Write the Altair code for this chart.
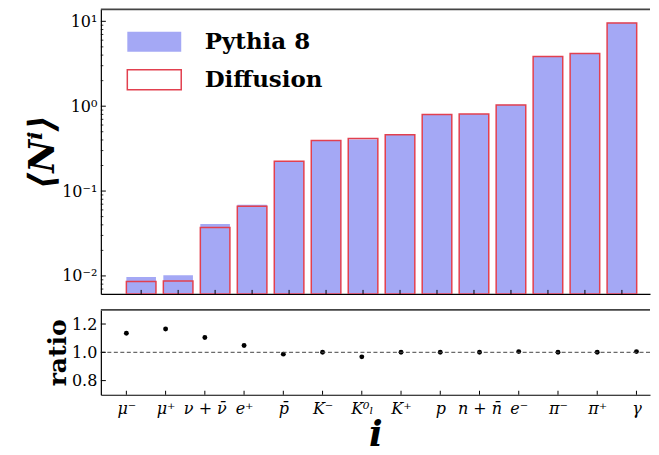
import json
import altair as alt
import pandas as pd

# ---------------- data ----------------
categories = ["μ⁻", "μ⁺", "ν + ν\u0304", "e⁺", "p\u0304", "K⁻", "K⁰ₗ", "K⁺",
              "p", "n + n\u0304", "e⁻", "π⁻", "π⁺", "γ"]
pythia = [0.0097, 0.0102, 0.041, 0.069, 0.222, 0.395, 0.404, 0.46,
          0.80, 0.81, 1.04, 3.84, 4.17, 9.6]
diffusion = [0.0086, 0.0087, 0.0372, 0.066, 0.225, 0.395, 0.417, 0.46,
             0.80, 0.81, 1.035, 3.84, 4.17, 9.55]
ratio = [1.135, 1.165, 1.105, 1.048, 0.987, 1.0, 0.968, 1.0,
         1.0, 1.0, 1.005, 1.0, 1.0, 1.005]
series_names = ["Pythia 8", "Diffusion"]

y_major = [0.01, 0.1, 1, 10]
y_major_labels = ["10⁻²", "10⁻¹", "10⁰", "10¹"]
minor_mult = [2, 3, 4, 5, 6, 7, 8, 9]
decades = [0.001, 0.01, 0.1, 1]
ratio_ticks = [0.8, 1.0, 1.2]

# ---------------- layout params ----------------
W = 550
H_TOP = 285
H_BOT = 85
YMIN, YMAX = 0.00614, 13.84
SERIF = "DejaVu Serif"

idx = list(range(len(categories)))
df_bars = pd.DataFrame({
    "idx": idx * 2,
    "value": pythia + diffusion,
    "series": [series_names[0]] * len(idx) + [series_names[1]] * len(idx),
})
df_ratio = pd.DataFrame({"idx": idx, "ratio": ratio})
df_ymaj = pd.DataFrame({"value": y_major})
df_ymin = pd.DataFrame({"value": [m * d for d in decades for m in minor_mult
                                  if YMIN < m * d < YMAX]})
df_idx = pd.DataFrame({"x0": idx, "idx": idx})
df_rt = pd.DataFrame({"ratio": ratio_ticks})
one = pd.DataFrame({"a": [0]})

xs_top = alt.Scale(domain=[-1.09, 13.76], nice=False, zero=False)
xs_bot = alt.Scale(domain=[-0.65, 13.345], nice=False, zero=False)
ys_top = alt.Scale(type="log", domain=[YMIN, YMAX], nice=False)
ys_bot = alt.Scale(domain=[0.7, 1.3], nice=False, zero=False)

expr_parts = []
for v, lab in zip(y_major[::-1], y_major_labels[::-1]):
    expr_parts.append(f"datum.value >= {v * 0.99} ? '{lab}' : ")
y_label_expr = "".join(expr_parts) + "''"

legend = alt.Legend(
    title=None, orient="none", legendX=42, legendY=21, padding=0,
    symbolType="M-2.7,-1H2.7V1H-2.7Z", symbolSize=400, symbolStrokeWidth=1.5,
    labelFont=SERIF, labelFontWeight="bold", labelFontSize=23,
    labelOffset=39, rowPadding=11, labelColor="black",
)

x_top_axis = alt.Axis(title=None, labels=False, ticks=False, grid=False,
                      domainColor="black", domainWidth=1.2)
y_top_axis = alt.Axis(values=y_major, labelExpr=y_label_expr, ticks=False,
                      grid=False, labelFont=SERIF, labelFontSize=16,
                      labelColor="black", labelPadding=4,
                      domainColor="black", domainWidth=1.2,
                      title="⟨Nⁱ⟩", titleFont=SERIF, titleFontSize=36,
                      titleFontWeight="bold", titleFontStyle="italic",
                      titleColor="black", titleAngle=270,
                      titleX=-58, titleY=H_TOP / 2, titleBaseline="middle",
                      titleAlign="center")

bars = alt.Chart(df_bars).transform_calculate(
    x0="datum.idx - 0.4", x1="datum.idx + 0.4"
).mark_bar(strokeWidth=1.5, clip=True).encode(
    x=alt.X("x0:Q", scale=xs_top, axis=x_top_axis),
    x2="x1:Q",
    y=alt.Y("value:Q", scale=ys_top, axis=y_top_axis),
    y2=alt.datum(YMIN),
    fill=alt.Fill("series:N", scale=alt.Scale(domain=series_names,
                                              range=["#a4a8f5", "transparent"]),
                  legend=legend),
    stroke=alt.Stroke("series:N", scale=alt.Scale(domain=series_names,
                                                  range=["transparent", "#e2404f"]),
                      legend=legend),
)

ymaj_ticks = alt.Chart(df_ymaj).mark_rule(color="black", strokeWidth=1).encode(
    y=alt.Y("value:Q", scale=ys_top, axis=y_top_axis), x=alt.value(0), x2=alt.value(5))
ymin_ticks = alt.Chart(df_ymin).mark_rule(color="black", strokeWidth=0.8).encode(
    y=alt.Y("value:Q", scale=ys_top, axis=y_top_axis), x=alt.value(0), x2=alt.value(2.5))
xtop_ticks = alt.Chart(df_idx).mark_rule(color="black", strokeWidth=1).encode(
    x=alt.X("x0:Q", scale=xs_top, axis=x_top_axis),
    y=alt.value(H_TOP - 4), y2=alt.value(H_TOP))
top_border = alt.Chart(one).mark_rule(color="#444", strokeWidth=1.6).encode(
    x=alt.value(0), x2=alt.value(W), y=alt.value(0))

top = alt.layer(bars, ymaj_ticks, ymin_ticks, xtop_ticks, top_border).properties(
    width=W, height=H_TOP)

x_label_expr = json.dumps(categories, ensure_ascii=False) + "[datum.value]"

x_bot_axis = alt.Axis(values=idx, labelExpr=x_label_expr, ticks=False,
                      grid=False, labelFont=SERIF, labelFontSize=16,
                      labelFontStyle="italic", labelColor="black",
                      labelPadding=6, labelOverlap=False, labelBound=False,
                      labelFlush=False,
                      domainColor="black", domainWidth=1.2,
                      title="i", titleFont=SERIF, titleFontSize=36,
                      titleFontWeight="bold", titleFontStyle="italic",
                      titleColor="black", titlePadding=1)
y_bot_axis = alt.Axis(values=ratio_ticks, format=".1f", ticks=False,
                      grid=False, labelFont=SERIF, labelFontSize=16,
                      labelColor="black", labelPadding=4,
                      domainColor="black", domainWidth=1.2,
                      title="ratio", titleFont=SERIF, titleFontSize=25,
                      titleFontWeight="bold", titleColor="black",
                      titleAngle=270, titleX=-43, titleY=H_BOT / 2,
                      titleBaseline="middle", titleAlign="center")

points = alt.Chart(df_ratio).mark_circle(size=24, color="black", opacity=1).encode(
    x=alt.X("idx:Q", scale=xs_bot, axis=x_bot_axis),
    y=alt.Y("ratio:Q", scale=ys_bot, axis=y_bot_axis),
)
dash = alt.Chart(one).mark_rule(color="#444", strokeWidth=1,
                                strokeDash=[4, 2.5]).encode(
    y=alt.datum(1.0))
rt_ticks = alt.Chart(df_rt).mark_rule(color="black", strokeWidth=1).encode(
    y=alt.Y("ratio:Q", scale=ys_bot, axis=y_bot_axis), x=alt.value(0), x2=alt.value(5))
xbot_ticks = alt.Chart(df_idx).mark_rule(color="black", strokeWidth=1).encode(
    x=alt.X("idx:Q", scale=xs_bot, axis=x_bot_axis),
    y=alt.value(H_BOT - 4), y2=alt.value(H_BOT))
bot_border = alt.Chart(one).mark_rule(color="#444", strokeWidth=1.6).encode(
    x=alt.value(0), x2=alt.value(W), y=alt.value(0))

bottom = alt.layer(points, dash, rt_ticks, xbot_ticks, bot_border).properties(
    width=W, height=H_BOT)

chart = alt.vconcat(top, bottom, spacing=14).properties(
    padding={"left": 17, "top": 0, "right": 0, "bottom": 0}
).configure_view(stroke=None)

chart.save("out.html", embed_options={"renderer": "svg", "actions": False})
